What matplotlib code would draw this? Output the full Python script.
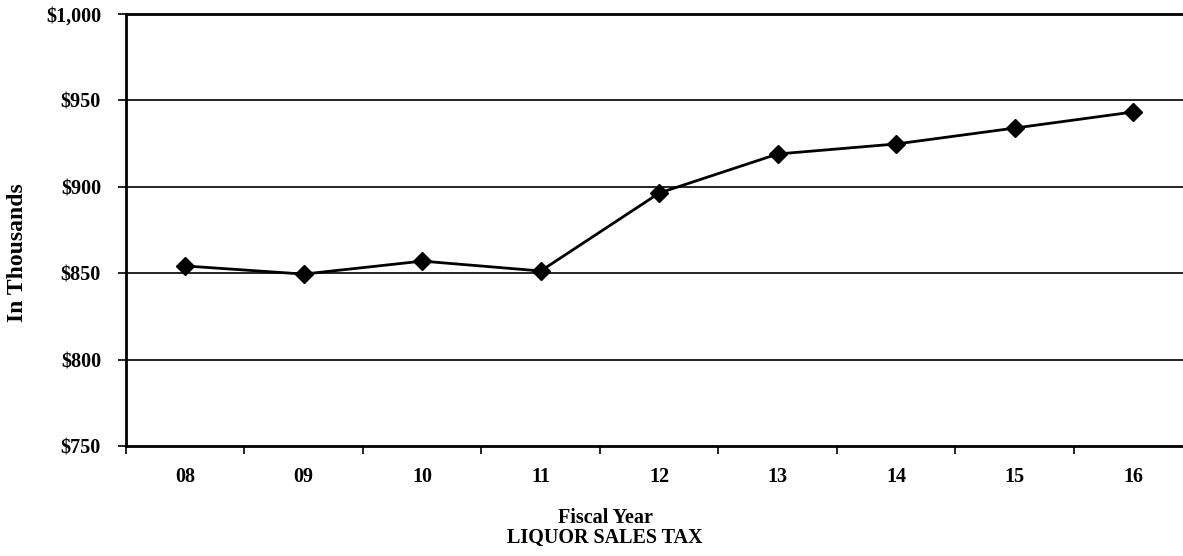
import matplotlib.pyplot as plt
import numpy as np
from matplotlib.ticker import FixedLocator, FuncFormatter

plt.rcParams['font.family'] = ['Liberation Serif', 'DejaVu Serif']
plt.rcParams['font.weight'] = 'bold'

# liquor sales tax receipts by fiscal year, in thousands of dollars
years = ['08', '09', '10', '11', '12', '13', '14', '15', '16']
revenue = [854.2, 849.5, 857.0, 851.3, 896.4, 919.0, 924.8, 934.0, 943.3]

fig = plt.figure(figsize=(11.83, 5.56), dpi=100)
ax = fig.add_axes([0.1065, 0.1978, 0.9015, 0.777])

x = np.arange(len(years))
ax.plot(x, revenue, color='black', linewidth=2, marker='D', markersize=9, zorder=3)

ax.set_xlim(-0.5, len(years) - 0.5)
ax.set_ylim(750, 1000)

# horizontal gridlines
for v in [800, 850, 900, 950]:
    ax.axhline(v, color='black', linewidth=1.2, zorder=1)

ax.set_yticks([750, 800, 850, 900, 950, 1000])
ax.yaxis.set_major_formatter(FuncFormatter(lambda v, p: '${:,.0f}'.format(v)))
ax.tick_params(axis='y', direction='out', length=6, width=1.2, labelsize=14.5, pad=12)

ax.set_xticks(x)
ax.set_xticklabels(years)
ax.tick_params(axis='x', which='major', length=0, labelsize=14.5, pad=15)
ax.xaxis.set_minor_locator(FixedLocator(np.arange(-0.5, len(years), 1.0)))
ax.tick_params(axis='x', which='minor', direction='out', length=6, width=1.2)

for s in ['left', 'bottom', 'top']:
    ax.spines[s].set_linewidth(2)
ax.spines['right'].set_visible(False)

fig.text(18 / 1183, 1 - 253 / 556, 'In Thousands', rotation=90, ha='center', va='center',
         fontsize=17, fontweight='bold')
fig.text(605 / 1183, 1 - 518 / 556, 'Fiscal Year', ha='center', va='center', fontsize=14.5, fontweight='bold')
fig.text(605 / 1183, 1 - 538 / 556, 'LIQUOR SALES TAX', ha='center', va='center', fontsize=14.5, fontweight='bold')

fig.savefig('out.png', dpi=100)
